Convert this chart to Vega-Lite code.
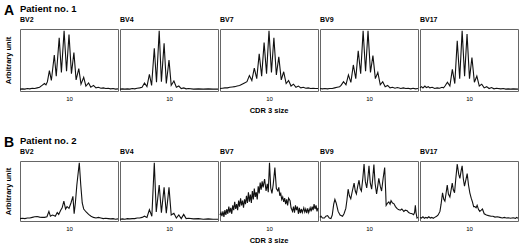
{
  "$schema": "https://vega.github.io/schema/vega-lite/v6.json",
  "padding": {"left": 3, "top": 3, "right": 0, "bottom": 0},
  "config": {
    "font": "Liberation Sans",
    "view": {"stroke": "#666", "strokeWidth": 1},
    "title": {"color": "#000", "fontWeight": "bold"},
    "header": {"labelOrient": "top", "labelAnchor": "start", "labelAlign": "left", "labelFontSize": 7, "labelFontWeight": "bold", "labelColor": "#000", "labelPadding": 6, "titleOrient": "bottom", "titleFontSize": 7.5, "titleFontWeight": "bold", "titleColor": "#000", "titlePadding": -4},
    "axisX": {"ticks": false, "domain": false, "grid": false, "labelFontSize": 6, "labelColor": "#000", "labelPadding": 4, "title": null},
    "axisY": {"labels": false, "ticks": false, "domain": false, "grid": false, "titleFontSize": 7.5, "titleFontWeight": "bold", "titleColor": "#000", "titlePadding": 8}
  },
  "spacing": 20,
  "datasets": {
    "p1": [
        {"bv":"BV2","x":0,"y":3},{"bv":"BV2","x":0.5,"y":3.5},{"bv":"BV2","x":1,"y":3},{"bv":"BV2","x":1.5,"y":4},{"bv":"BV2","x":2,"y":3.5},{"bv":"BV2","x":2.5,"y":4.5},{"bv":"BV2","x":3,"y":4},{"bv":"BV2","x":3.5,"y":5},{"bv":"BV2","x":4,"y":6},{"bv":"BV2","x":4.5,"y":9},{"bv":"BV2","x":5,"y":12},{"bv":"BV2","x":5.3,"y":10},{"bv":"BV2","x":5.6,"y":15},{"bv":"BV2","x":6,"y":33},{"bv":"BV2","x":6.4,"y":17},{"bv":"BV2","x":7,"y":58},{"bv":"BV2","x":7.4,"y":24},{"bv":"BV2","x":8,"y":86},{"bv":"BV2","x":8.45,"y":30},{"bv":"BV2","x":9,"y":97},{"bv":"BV2","x":9.5,"y":32},{"bv":"BV2","x":10,"y":91},{"bv":"BV2","x":10.5,"y":28},{"bv":"BV2","x":11,"y":62},{"bv":"BV2","x":11.45,"y":18},{"bv":"BV2","x":12,"y":36},{"bv":"BV2","x":12.45,"y":11},{"bv":"BV2","x":13,"y":22},{"bv":"BV2","x":13.45,"y":8},{"bv":"BV2","x":14,"y":13},{"bv":"BV2","x":14.45,"y":6},{"bv":"BV2","x":15,"y":9},{"bv":"BV2","x":15.5,"y":5},{"bv":"BV2","x":16,"y":6},{"bv":"BV2","x":16.5,"y":4.5},{"bv":"BV2","x":17,"y":5},{"bv":"BV2","x":17.5,"y":4},{"bv":"BV2","x":18,"y":4.5},{"bv":"BV2","x":18.5,"y":3.5},{"bv":"BV2","x":19,"y":4},{"bv":"BV2","x":19.5,"y":3},{"bv":"BV2","x":20,"y":3.5},
        {"bv":"BV4","x":0,"y":3},{"bv":"BV4","x":0.5,"y":3.5},{"bv":"BV4","x":1,"y":3},{"bv":"BV4","x":1.5,"y":3.5},{"bv":"BV4","x":2,"y":3},{"bv":"BV4","x":2.5,"y":4},{"bv":"BV4","x":3,"y":3.5},{"bv":"BV4","x":3.5,"y":4.5},{"bv":"BV4","x":4,"y":5},{"bv":"BV4","x":4.5,"y":6},{"bv":"BV4","x":5,"y":13},{"bv":"BV4","x":5.5,"y":7},{"bv":"BV4","x":6,"y":27},{"bv":"BV4","x":6.45,"y":9},{"bv":"BV4","x":7,"y":69},{"bv":"BV4","x":7.45,"y":14},{"bv":"BV4","x":8,"y":97},{"bv":"BV4","x":8.45,"y":15},{"bv":"BV4","x":9,"y":77},{"bv":"BV4","x":9.45,"y":12},{"bv":"BV4","x":10,"y":50},{"bv":"BV4","x":10.45,"y":9},{"bv":"BV4","x":11,"y":16},{"bv":"BV4","x":11.5,"y":6},{"bv":"BV4","x":12,"y":8},{"bv":"BV4","x":12.5,"y":4},{"bv":"BV4","x":13,"y":5},{"bv":"BV4","x":13.5,"y":3.5},{"bv":"BV4","x":14,"y":4},{"bv":"BV4","x":15,"y":3},{"bv":"BV4","x":16,"y":3.5},{"bv":"BV4","x":17,"y":3},{"bv":"BV4","x":18,"y":3.5},{"bv":"BV4","x":19,"y":3},{"bv":"BV4","x":20,"y":3},
        {"bv":"BV7","x":0,"y":4},{"bv":"BV7","x":0.5,"y":4.5},{"bv":"BV7","x":1,"y":5},{"bv":"BV7","x":1.5,"y":5},{"bv":"BV7","x":2,"y":6},{"bv":"BV7","x":2.5,"y":6.5},{"bv":"BV7","x":3,"y":7},{"bv":"BV7","x":3.5,"y":8},{"bv":"BV7","x":4,"y":9},{"bv":"BV7","x":4.5,"y":11},{"bv":"BV7","x":5,"y":13},{"bv":"BV7","x":5.5,"y":15},{"bv":"BV7","x":6,"y":25},{"bv":"BV7","x":6.5,"y":17},{"bv":"BV7","x":7,"y":37},{"bv":"BV7","x":7.5,"y":20},{"bv":"BV7","x":8,"y":60},{"bv":"BV7","x":8.5,"y":24},{"bv":"BV7","x":9,"y":78},{"bv":"BV7","x":9.5,"y":28},{"bv":"BV7","x":10,"y":97},{"bv":"BV7","x":10.5,"y":30},{"bv":"BV7","x":11,"y":86},{"bv":"BV7","x":11.5,"y":26},{"bv":"BV7","x":12,"y":55},{"bv":"BV7","x":12.5,"y":18},{"bv":"BV7","x":13,"y":31},{"bv":"BV7","x":13.5,"y":12},{"bv":"BV7","x":14,"y":17},{"bv":"BV7","x":14.5,"y":8},{"bv":"BV7","x":15,"y":11},{"bv":"BV7","x":15.5,"y":6},{"bv":"BV7","x":16,"y":8},{"bv":"BV7","x":16.5,"y":5},{"bv":"BV7","x":17,"y":6},{"bv":"BV7","x":17.5,"y":4.5},{"bv":"BV7","x":18,"y":5},{"bv":"BV7","x":18.5,"y":4},{"bv":"BV7","x":19,"y":4.5},{"bv":"BV7","x":19.5,"y":4},{"bv":"BV7","x":20,"y":4},
        {"bv":"BV9","x":0,"y":4},{"bv":"BV9","x":0.5,"y":3.5},{"bv":"BV9","x":1,"y":4},{"bv":"BV9","x":1.5,"y":3.5},{"bv":"BV9","x":2,"y":4},{"bv":"BV9","x":2.5,"y":4},{"bv":"BV9","x":3,"y":5},{"bv":"BV9","x":3.5,"y":6},{"bv":"BV9","x":4,"y":7},{"bv":"BV9","x":4.3,"y":9},{"bv":"BV9","x":4.8,"y":15},{"bv":"BV9","x":5.3,"y":10},{"bv":"BV9","x":5.8,"y":26},{"bv":"BV9","x":6.3,"y":14},{"bv":"BV9","x":6.8,"y":42},{"bv":"BV9","x":7.3,"y":20},{"bv":"BV9","x":7.8,"y":65},{"bv":"BV9","x":8.3,"y":28},{"bv":"BV9","x":8.8,"y":97},{"bv":"BV9","x":9.3,"y":32},{"bv":"BV9","x":9.8,"y":97},{"bv":"BV9","x":10.3,"y":30},{"bv":"BV9","x":10.8,"y":57},{"bv":"BV9","x":11.3,"y":20},{"bv":"BV9","x":11.8,"y":30},{"bv":"BV9","x":12.3,"y":10},{"bv":"BV9","x":12.8,"y":15},{"bv":"BV9","x":13.3,"y":7},{"bv":"BV9","x":13.8,"y":9},{"bv":"BV9","x":14.3,"y":5},{"bv":"BV9","x":14.8,"y":6},{"bv":"BV9","x":15.3,"y":4.5},{"bv":"BV9","x":15.8,"y":5.5},{"bv":"BV9","x":16.5,"y":4},{"bv":"BV9","x":17,"y":5},{"bv":"BV9","x":17.5,"y":4},{"bv":"BV9","x":18,"y":4.5},{"bv":"BV9","x":18.5,"y":3.5},{"bv":"BV9","x":19,"y":4.5},{"bv":"BV9","x":19.5,"y":3.5},{"bv":"BV9","x":20,"y":4},
        {"bv":"BV17","x":0,"y":5},{"bv":"BV17","x":0.3,"y":7},{"bv":"BV17","x":0.6,"y":5},{"bv":"BV17","x":1,"y":8},{"bv":"BV17","x":1.3,"y":5.5},{"bv":"BV17","x":1.7,"y":7},{"bv":"BV17","x":2,"y":5},{"bv":"BV17","x":2.5,"y":6},{"bv":"BV17","x":3,"y":4},{"bv":"BV17","x":3.5,"y":5},{"bv":"BV17","x":4,"y":4.5},{"bv":"BV17","x":4.5,"y":6},{"bv":"BV17","x":4.8,"y":5},{"bv":"BV17","x":5.1,"y":8},{"bv":"BV17","x":5.6,"y":14},{"bv":"BV17","x":6.1,"y":8},{"bv":"BV17","x":6.6,"y":35},{"bv":"BV17","x":7.1,"y":12},{"bv":"BV17","x":7.6,"y":81},{"bv":"BV17","x":8.1,"y":20},{"bv":"BV17","x":8.6,"y":97},{"bv":"BV17","x":9.1,"y":24},{"bv":"BV17","x":9.6,"y":92},{"bv":"BV17","x":10.1,"y":20},{"bv":"BV17","x":10.6,"y":54},{"bv":"BV17","x":11.1,"y":14},{"bv":"BV17","x":11.6,"y":24},{"bv":"BV17","x":12.1,"y":8},{"bv":"BV17","x":12.6,"y":11},{"bv":"BV17","x":13.1,"y":5},{"bv":"BV17","x":13.6,"y":7},{"bv":"BV17","x":14.1,"y":4},{"bv":"BV17","x":14.6,"y":5.5},{"bv":"BV17","x":15.1,"y":3.5},{"bv":"BV17","x":15.6,"y":4.5},{"bv":"BV17","x":16.5,"y":3.5},{"bv":"BV17","x":17,"y":4},{"bv":"BV17","x":17.5,"y":3},{"bv":"BV17","x":18,"y":3.5},{"bv":"BV17","x":18.5,"y":3},{"bv":"BV17","x":19,"y":3.5},{"bv":"BV17","x":20,"y":3}
    ],
    "p2": [
        {"bv":"BV2","x":0,"y":4},{"bv":"BV2","x":0.5,"y":4.5},{"bv":"BV2","x":1,"y":4},{"bv":"BV2","x":1.5,"y":5},{"bv":"BV2","x":2,"y":5},{"bv":"BV2","x":2.5,"y":6},{"bv":"BV2","x":3,"y":7},{"bv":"BV2","x":3.5,"y":7.5},{"bv":"BV2","x":4,"y":6.5},{"bv":"BV2","x":4.5,"y":6},{"bv":"BV2","x":5,"y":6},{"bv":"BV2","x":5.5,"y":7},{"bv":"BV2","x":5.9,"y":16},{"bv":"BV2","x":6.2,"y":8},{"bv":"BV2","x":6.6,"y":10},{"bv":"BV2","x":6.9,"y":9},{"bv":"BV2","x":7.2,"y":8},{"bv":"BV2","x":7.6,"y":14},{"bv":"BV2","x":7.9,"y":11},{"bv":"BV2","x":8.3,"y":18},{"bv":"BV2","x":8.6,"y":22},{"bv":"BV2","x":8.95,"y":33},{"bv":"BV2","x":9.3,"y":20},{"bv":"BV2","x":9.6,"y":24},{"bv":"BV2","x":10,"y":21},{"bv":"BV2","x":10.4,"y":30},{"bv":"BV2","x":10.8,"y":41},{"bv":"BV2","x":11.05,"y":12},{"bv":"BV2","x":11.3,"y":30},{"bv":"BV2","x":11.6,"y":60},{"bv":"BV2","x":12.1,"y":97},{"bv":"BV2","x":12.4,"y":60},{"bv":"BV2","x":12.7,"y":30},{"bv":"BV2","x":13,"y":20},{"bv":"BV2","x":13.5,"y":15},{"bv":"BV2","x":14,"y":11},{"bv":"BV2","x":14.5,"y":8},{"bv":"BV2","x":15,"y":6},{"bv":"BV2","x":15.5,"y":5},{"bv":"BV2","x":16,"y":6},{"bv":"BV2","x":16.5,"y":5},{"bv":"BV2","x":17,"y":4},{"bv":"BV2","x":17.5,"y":4.5},{"bv":"BV2","x":18,"y":4},{"bv":"BV2","x":18.5,"y":3.5},{"bv":"BV2","x":19,"y":4},{"bv":"BV2","x":19.5,"y":3},{"bv":"BV2","x":20,"y":3.5},
        {"bv":"BV4","x":0,"y":3},{"bv":"BV4","x":0.5,"y":3.5},{"bv":"BV4","x":1,"y":3},{"bv":"BV4","x":1.5,"y":4},{"bv":"BV4","x":2,"y":3.5},{"bv":"BV4","x":2.5,"y":4},{"bv":"BV4","x":3,"y":4},{"bv":"BV4","x":3.5,"y":5},{"bv":"BV4","x":4,"y":5},{"bv":"BV4","x":4.5,"y":6},{"bv":"BV4","x":5,"y":8},{"bv":"BV4","x":5.5,"y":6},{"bv":"BV4","x":6,"y":19},{"bv":"BV4","x":6.5,"y":8},{"bv":"BV4","x":7,"y":97},{"bv":"BV4","x":7.4,"y":15},{"bv":"BV4","x":8,"y":60},{"bv":"BV4","x":8.45,"y":14},{"bv":"BV4","x":9,"y":56},{"bv":"BV4","x":9.45,"y":13},{"bv":"BV4","x":10,"y":56},{"bv":"BV4","x":10.45,"y":10},{"bv":"BV4","x":11,"y":13},{"bv":"BV4","x":11.5,"y":5},{"bv":"BV4","x":12,"y":10},{"bv":"BV4","x":12.5,"y":4},{"bv":"BV4","x":13,"y":11},{"bv":"BV4","x":13.5,"y":4},{"bv":"BV4","x":14,"y":4.5},{"bv":"BV4","x":15,"y":3.5},{"bv":"BV4","x":16,"y":4},{"bv":"BV4","x":17,"y":3},{"bv":"BV4","x":18,"y":3.5},{"bv":"BV4","x":19,"y":3},{"bv":"BV4","x":20,"y":3},
        {"bv":"BV7","x":0,"y":10},{"bv":"BV7","x":0.2,"y":14},{"bv":"BV7","x":0.4,"y":8},{"bv":"BV7","x":0.6,"y":16},{"bv":"BV7","x":0.8,"y":7},{"bv":"BV7","x":1,"y":18},{"bv":"BV7","x":1.2,"y":10},{"bv":"BV7","x":1.4,"y":20},{"bv":"BV7","x":1.6,"y":12},{"bv":"BV7","x":1.8,"y":24},{"bv":"BV7","x":2,"y":14},{"bv":"BV7","x":2.2,"y":22},{"bv":"BV7","x":2.4,"y":12},{"bv":"BV7","x":2.6,"y":26},{"bv":"BV7","x":2.8,"y":18},{"bv":"BV7","x":3,"y":32},{"bv":"BV7","x":3.2,"y":20},{"bv":"BV7","x":3.4,"y":28},{"bv":"BV7","x":3.6,"y":18},{"bv":"BV7","x":3.8,"y":34},{"bv":"BV7","x":4,"y":24},{"bv":"BV7","x":4.2,"y":38},{"bv":"BV7","x":4.4,"y":26},{"bv":"BV7","x":4.6,"y":34},{"bv":"BV7","x":4.8,"y":22},{"bv":"BV7","x":5,"y":36},{"bv":"BV7","x":5.2,"y":28},{"bv":"BV7","x":5.4,"y":42},{"bv":"BV7","x":5.6,"y":30},{"bv":"BV7","x":5.8,"y":48},{"bv":"BV7","x":6,"y":32},{"bv":"BV7","x":6.2,"y":44},{"bv":"BV7","x":6.4,"y":30},{"bv":"BV7","x":6.6,"y":50},{"bv":"BV7","x":6.8,"y":36},{"bv":"BV7","x":7,"y":54},{"bv":"BV7","x":7.2,"y":40},{"bv":"BV7","x":7.4,"y":48},{"bv":"BV7","x":7.6,"y":36},{"bv":"BV7","x":7.8,"y":58},{"bv":"BV7","x":8,"y":46},{"bv":"BV7","x":8.2,"y":64},{"bv":"BV7","x":8.4,"y":52},{"bv":"BV7","x":8.6,"y":66},{"bv":"BV7","x":8.8,"y":56},{"bv":"BV7","x":9.1,"y":70},{"bv":"BV7","x":9.4,"y":50},{"bv":"BV7","x":9.65,"y":62},{"bv":"BV7","x":9.85,"y":48},{"bv":"BV7","x":10.1,"y":97},{"bv":"BV7","x":10.35,"y":55},{"bv":"BV7","x":10.6,"y":46},{"bv":"BV7","x":10.85,"y":60},{"bv":"BV7","x":11.2,"y":89},{"bv":"BV7","x":11.5,"y":54},{"bv":"BV7","x":11.8,"y":50},{"bv":"BV7","x":12,"y":56},{"bv":"BV7","x":12.2,"y":42},{"bv":"BV7","x":12.4,"y":46},{"bv":"BV7","x":12.6,"y":36},{"bv":"BV7","x":12.8,"y":40},{"bv":"BV7","x":13,"y":32},{"bv":"BV7","x":13.2,"y":38},{"bv":"BV7","x":13.4,"y":28},{"bv":"BV7","x":13.6,"y":36},{"bv":"BV7","x":13.8,"y":26},{"bv":"BV7","x":14,"y":38},{"bv":"BV7","x":14.3,"y":34},{"bv":"BV7","x":14.5,"y":22},{"bv":"BV7","x":14.8,"y":16},{"bv":"BV7","x":15,"y":24},{"bv":"BV7","x":15.2,"y":14},{"bv":"BV7","x":15.4,"y":26},{"bv":"BV7","x":15.6,"y":18},{"bv":"BV7","x":15.8,"y":24},{"bv":"BV7","x":16,"y":12},{"bv":"BV7","x":16.2,"y":22},{"bv":"BV7","x":16.4,"y":13},{"bv":"BV7","x":16.6,"y":20},{"bv":"BV7","x":16.8,"y":14},{"bv":"BV7","x":17.1,"y":22},{"bv":"BV7","x":17.3,"y":15},{"bv":"BV7","x":17.5,"y":20},{"bv":"BV7","x":17.7,"y":13},{"bv":"BV7","x":17.9,"y":21},{"bv":"BV7","x":18.1,"y":14},{"bv":"BV7","x":18.4,"y":22},{"bv":"BV7","x":18.6,"y":16},{"bv":"BV7","x":18.8,"y":24},{"bv":"BV7","x":19,"y":18},{"bv":"BV7","x":19.2,"y":28},{"bv":"BV7","x":19.4,"y":20},{"bv":"BV7","x":19.6,"y":26},{"bv":"BV7","x":19.8,"y":16},{"bv":"BV7","x":20,"y":22},
        {"bv":"BV9","x":0,"y":6},{"bv":"BV9","x":0.2,"y":8},{"bv":"BV9","x":0.5,"y":5},{"bv":"BV9","x":0.9,"y":5},{"bv":"BV9","x":1.2,"y":8},{"bv":"BV9","x":1.55,"y":9},{"bv":"BV9","x":1.9,"y":5},{"bv":"BV9","x":2.23,"y":4},{"bv":"BV9","x":2.5,"y":10},{"bv":"BV9","x":2.8,"y":28},{"bv":"BV9","x":3.04,"y":36},{"bv":"BV9","x":3.3,"y":30},{"bv":"BV9","x":3.7,"y":16},{"bv":"BV9","x":4.1,"y":10},{"bv":"BV9","x":4.6,"y":8},{"bv":"BV9","x":4.9,"y":12},{"bv":"BV9","x":5.27,"y":21},{"bv":"BV9","x":5.5,"y":35},{"bv":"BV9","x":5.74,"y":53},{"bv":"BV9","x":6,"y":42},{"bv":"BV9","x":6.28,"y":37},{"bv":"BV9","x":6.6,"y":50},{"bv":"BV9","x":6.96,"y":63},{"bv":"BV9","x":7.2,"y":50},{"bv":"BV9","x":7.43,"y":45},{"bv":"BV9","x":7.7,"y":58},{"bv":"BV9","x":7.97,"y":68},{"bv":"BV9","x":8.2,"y":54},{"bv":"BV9","x":8.45,"y":50},{"bv":"BV9","x":8.75,"y":72},{"bv":"BV9","x":8.99,"y":95},{"bv":"BV9","x":9.25,"y":66},{"bv":"BV9","x":9.53,"y":55},{"bv":"BV9","x":9.75,"y":70},{"bv":"BV9","x":10,"y":92},{"bv":"BV9","x":10.25,"y":64},{"bv":"BV9","x":10.54,"y":53},{"bv":"BV9","x":10.75,"y":70},{"bv":"BV9","x":11,"y":94},{"bv":"BV9","x":11.25,"y":62},{"bv":"BV9","x":11.55,"y":45},{"bv":"BV9","x":11.75,"y":56},{"bv":"BV9","x":12,"y":71},{"bv":"BV9","x":12.3,"y":58},{"bv":"BV9","x":12.57,"y":50},{"bv":"BV9","x":12.9,"y":72},{"bv":"BV9","x":13.2,"y":89},{"bv":"BV9","x":13.4,"y":50},{"bv":"BV9","x":13.5,"y":26},{"bv":"BV9","x":13.8,"y":30},{"bv":"BV9","x":14.05,"y":32},{"bv":"BV9","x":14.3,"y":28},{"bv":"BV9","x":14.5,"y":34},{"bv":"BV9","x":14.8,"y":30},{"bv":"BV9","x":15.07,"y":29},{"bv":"BV9","x":15.4,"y":24},{"bv":"BV9","x":15.7,"y":21},{"bv":"BV9","x":16,"y":19},{"bv":"BV9","x":16.4,"y":18},{"bv":"BV9","x":16.7,"y":20},{"bv":"BV9","x":17.1,"y":16},{"bv":"BV9","x":17.4,"y":18},{"bv":"BV9","x":17.8,"y":17},{"bv":"BV9","x":18.1,"y":14},{"bv":"BV9","x":18.4,"y":13},{"bv":"BV9","x":18.8,"y":12},{"bv":"BV9","x":19.1,"y":10.5},{"bv":"BV9","x":19.3,"y":14},{"bv":"BV9","x":19.46,"y":26},{"bv":"BV9","x":19.6,"y":14},{"bv":"BV9","x":19.8,"y":5},{"bv":"BV9","x":20,"y":6},
        {"bv":"BV17","x":0,"y":6},{"bv":"BV17","x":0.3,"y":5},{"bv":"BV17","x":0.6,"y":7},{"bv":"BV17","x":0.9,"y":4.5},{"bv":"BV17","x":1.2,"y":6},{"bv":"BV17","x":1.5,"y":5},{"bv":"BV17","x":1.8,"y":7},{"bv":"BV17","x":2.1,"y":5},{"bv":"BV17","x":2.4,"y":6},{"bv":"BV17","x":2.7,"y":4.5},{"bv":"BV17","x":3,"y":6},{"bv":"BV17","x":3.4,"y":8},{"bv":"BV17","x":3.7,"y":10},{"bv":"BV17","x":4.07,"y":16},{"bv":"BV17","x":4.3,"y":28},{"bv":"BV17","x":4.6,"y":47},{"bv":"BV17","x":4.85,"y":36},{"bv":"BV17","x":5.08,"y":33},{"bv":"BV17","x":5.3,"y":45},{"bv":"BV17","x":5.56,"y":60},{"bv":"BV17","x":5.8,"y":45},{"bv":"BV17","x":6.1,"y":40},{"bv":"BV17","x":6.35,"y":52},{"bv":"BV17","x":6.58,"y":63},{"bv":"BV17","x":6.8,"y":52},{"bv":"BV17","x":7.05,"y":47},{"bv":"BV17","x":7.3,"y":70},{"bv":"BV17","x":7.6,"y":95},{"bv":"BV17","x":7.9,"y":78},{"bv":"BV17","x":8.14,"y":71},{"bv":"BV17","x":8.4,"y":84},{"bv":"BV17","x":8.6,"y":92},{"bv":"BV17","x":8.85,"y":70},{"bv":"BV17","x":9.08,"y":58},{"bv":"BV17","x":9.35,"y":68},{"bv":"BV17","x":9.63,"y":79},{"bv":"BV17","x":9.9,"y":60},{"bv":"BV17","x":10.17,"y":47},{"bv":"BV17","x":10.45,"y":38},{"bv":"BV17","x":10.7,"y":32},{"bv":"BV17","x":10.95,"y":24},{"bv":"BV17","x":11.2,"y":24},{"bv":"BV17","x":11.45,"y":22},{"bv":"BV17","x":11.66,"y":26},{"bv":"BV17","x":11.95,"y":19},{"bv":"BV17","x":12.2,"y":16},{"bv":"BV17","x":12.5,"y":18},{"bv":"BV17","x":12.75,"y":20},{"bv":"BV17","x":13.1,"y":12},{"bv":"BV17","x":13.56,"y":10},{"bv":"BV17","x":14,"y":9},{"bv":"BV17","x":14.5,"y":8},{"bv":"BV17","x":14.9,"y":8},{"bv":"BV17","x":15.3,"y":6.5},{"bv":"BV17","x":15.8,"y":7},{"bv":"BV17","x":16.3,"y":6},{"bv":"BV17","x":16.8,"y":5},{"bv":"BV17","x":17.2,"y":6},{"bv":"BV17","x":17.6,"y":5},{"bv":"BV17","x":18,"y":5.5},{"bv":"BV17","x":18.5,"y":4.5},{"bv":"BV17","x":19,"y":5.5},{"bv":"BV17","x":19.5,"y":4.5},{"bv":"BV17","x":19.7,"y":6},{"bv":"BV17","x":20,"y":4.5}
    ]
  },
  "vconcat": [
    {
      "title": {"text": "A", "orient": "left", "angle": 0, "anchor": "end", "align": "left", "baseline": "top", "fontSize": 14, "offset": -10},
      "vconcat": [
        {
          "title": {"text": "Patient no. 1", "anchor": "start", "frame": "group", "fontSize": 9.5, "offset": 3},
          "data": {"name": "p1"},
          "facet": {"column": {"field": "bv", "type": "nominal", "title": "CDR 3 size", "sort": ["BV2","BV4","BV7","BV9","BV17"]}},
          "spacing": 2,
          "bounds": "flush",
          "spec": {
            "width": 98, "height": 62,
            "mark": {"type": "line", "color": "#111", "strokeWidth": 1.1},
            "encoding": {
              "x": {"field": "x", "type": "quantitative", "scale": {"domain": [0, 20], "nice": false}, "axis": {"values": [10], "labelFlush": false}},
              "y": {"field": "y", "type": "quantitative", "scale": {"domain": [0, 100], "nice": false}, "title": "Arbitrary unit"}
            }
          }
        }
      ]
    },
    {
      "title": {"text": "B", "orient": "left", "angle": 0, "anchor": "end", "align": "left", "baseline": "top", "fontSize": 14, "offset": -10},
      "vconcat": [
        {
          "title": {"text": "Patient no. 2", "anchor": "start", "frame": "group", "fontSize": 9.5, "offset": 3},
          "data": {"name": "p2"},
          "facet": {"column": {"field": "bv", "type": "nominal", "title": "CDR 3 size", "sort": ["BV2","BV4","BV7","BV9","BV17"]}},
          "spacing": 2,
          "bounds": "flush",
          "spec": {
            "width": 98, "height": 60,
            "mark": {"type": "line", "color": "#111", "strokeWidth": 1.1},
            "encoding": {
              "x": {"field": "x", "type": "quantitative", "scale": {"domain": [0, 20], "nice": false}, "axis": {"values": [10], "labelFlush": false}},
              "y": {"field": "y", "type": "quantitative", "scale": {"domain": [0, 100], "nice": false}, "title": "Arbitrary unit"}
            }
          }
        }
      ]
    }
  ]
}
